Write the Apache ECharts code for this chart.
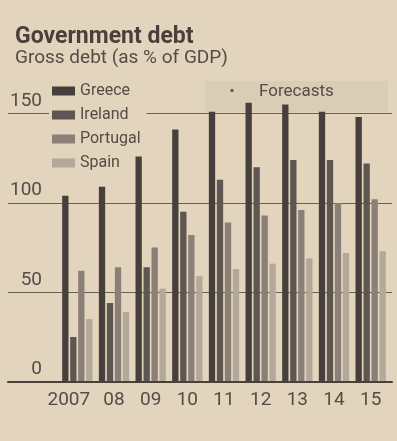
<!DOCTYPE html>
<html>
<head>
<meta charset="utf-8">
<script src="https://cdn.jsdelivr.net/npm/echarts@6/dist/echarts.min.js"></script>
<style>
  html, body { margin: 0; padding: 0; background: #e2d4bd; }
  #chart { width: 397px; height: 441px; }
</style>
</head>
<body>
<div id="chart"></div>
<script>
// Gross government debt, % of GDP (2011-15 are forecasts)
const years = ['2007', '08', '09', '10', '11', '12', '13', '14', '15'];
const greece   = [104, 109, 126, 141, 151, 156, 155, 151, 148];
const ireland  = [25, 44, 64, 95, 113, 120, 124, 124, 122];
const portugal = [62, 64, 75, 82, 89, 93, 96, 100, 102];
const spain    = [35, 39, 52, 59, 63, 66, 69, 72, 73];
const yTicks = [0, 50, 100, 150];

const BG = '#e2d4bd';
const INK = '#564c46';
const FONT = 'Roboto, "Liberation Sans", sans-serif';
const GRID_TOP = 113.5, GRID_BOTTOM = 59.3;

const chart = echarts.init(document.getElementById('chart'), null, { renderer: 'canvas' });

function barSeries(name, data, color) {
  return {
    name: name,
    type: 'bar',
    xAxisIndex: 1,
    yAxisIndex: 1,
    data: data,
    barWidth: 6.3,
    barGap: '27%',
    clip: false,
    itemStyle: { color: color },
    z: 4
  };
}

chart.setOption({
  backgroundColor: BG,
  animation: false,
  textStyle: { fontFamily: FONT },
  title: [
    {
      text: 'Government debt',
      left: 10, top: 21,
      textStyle: { fontFamily: FONT, fontSize: 23, fontWeight: 'bold', color: '#4a403a' }
    },
    {
      text: 'Gross debt (as % of GDP)',
      left: 10, top: 44,
      textStyle: { fontFamily: FONT, fontSize: 19, fontWeight: 'normal', color: INK }
    }
  ],
  // legend sits above the gridlines but beneath the bars
  legend: {
    orient: 'vertical',
    left: 49, top: 80,
    icon: 'rect',
    itemWidth: 23, itemHeight: 9,
    itemGap: 6,
    padding: [2, 6, 2, 3],
    backgroundColor: BG,
    textStyle: { fontFamily: FONT, fontSize: 16, lineHeight: 18, color: INK },
    data: ['Greece', 'Ireland', 'Portugal', 'Spain'],
    z: 2
  },
  graphic: [
    {
      type: 'rect', z: 0,
      shape: { x: 205, y: 81, width: 183, height: 31 },
      style: { fill: 'rgba(110,98,88,0.06)' }
    },
    {
      type: 'circle', z: 6,
      shape: { cx: 232, cy: 90.5, r: 1.6 },
      style: { fill: INK }
    },
    {
      type: 'text', z: 6,
      left: 259, top: 83,
      style: { text: 'Forecasts', fontFamily: FONT, fontSize: 17, fill: INK }
    }
  ],
  grid: [
    { left: 8, right: 5, top: GRID_TOP, bottom: GRID_BOTTOM },
    { left: 59, right: 8, top: GRID_TOP, bottom: GRID_BOTTOM }
  ],
  xAxis: [
    {
      gridIndex: 0, type: 'value', min: 0, max: 1, z: 5,
      axisLine: { show: true, lineStyle: { color: '#4a403a', width: 2 } },
      axisTick: { show: false }, axisLabel: { show: false }, splitLine: { show: false }
    },
    {
      gridIndex: 1, type: 'category',
      data: years.map((y, i) => i === 0
        ? { value: y, textStyle: { padding: [0, 17, 0, 0] } }
        : y),
      axisLine: { show: false }, axisTick: { show: false },
      axisLabel: { interval: 0, fontFamily: FONT, fontSize: 19, color: INK, margin: 9 }
    }
  ],
  yAxis: [
    {
      gridIndex: 0, type: 'value', z: 0,
      min: yTicks[0], max: yTicks[yTicks.length - 1], interval: 50,
      axisLine: { show: false }, axisTick: { show: false },
      axisLabel: {
        inside: true, margin: 34, align: 'right', verticalAlign: 'bottom',
        padding: [0, 0, 3, 0],
        fontFamily: FONT, fontSize: 19, color: INK
      },
      splitLine: { lineStyle: { color: '#6a5f57', width: 1 } }
    },
    {
      gridIndex: 1, type: 'value',
      min: yTicks[0], max: yTicks[yTicks.length - 1],
      show: false, splitLine: { show: false }
    }
  ],
  series: [
    barSeries('Greece', greece, '#463f3b'),
    barSeries('Ireland', ireland, '#5e5651'),
    barSeries('Portugal', portugal, '#8b8078'),
    barSeries('Spain', spain, '#b4a898')
  ]
});
</script>
</body>
</html>
